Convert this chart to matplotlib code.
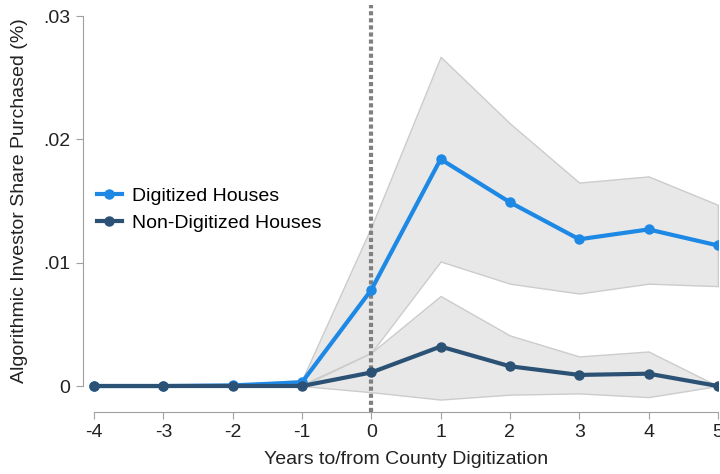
import matplotlib.pyplot as plt

years = [-4, -3, -2, -1, 0, 1, 2, 3, 4, 5]

dig = [0.0, 0.0, 0.00005, 0.0003, 0.0078, 0.0184, 0.0149, 0.0119, 0.0127, 0.0114]
dig_lo = [0.0, 0.0, 0.0, 0.0001, 0.0027, 0.0101, 0.0083, 0.0075, 0.0083, 0.0081]
dig_hi = [0.0, 0.0, 0.0001, 0.0005, 0.0129, 0.0267, 0.0213, 0.0165, 0.0170, 0.0147]

non = [0.0, 0.0, 0.0, 0.0, 0.0011, 0.0032, 0.0016, 0.0009, 0.0010, 0.0]
non_lo = [0.0, 0.0, 0.0, 0.0, -0.0005, -0.0011, -0.0007, -0.0006, -0.0009, 0.0]
non_hi = [0.0, 0.0, 0.0, 0.0, 0.0027, 0.0073, 0.0041, 0.0024, 0.0028, 0.0]

yticks = [0, 0.01, 0.02, 0.03]
ytick_labels = ['0', '.01', '.02', '.03']

plt.rcParams['font.family'] = ['Liberation Sans', 'DejaVu Sans']

fig = plt.figure(figsize=(7.2, 4.74), dpi=100)
ax = fig.add_axes([0.1153, 0.131, 0.8817, 0.835])

band = dict(facecolor='#e8e8e8', edgecolor='#cccccc', linewidth=1, zorder=1)
ax.fill_between(years, dig_lo, dig_hi, **band)
ax.fill_between(years, non_lo, non_hi, **band)

# dotted line at digitization year, running a bit above the plot top
ax.plot([0, 0], [-0.0021, 0.0309], color='#808080', linestyle=(0, (1, 0.7)),
        linewidth=3, zorder=2, clip_on=False)

ax.plot(years, dig, color='#1e88e5', linewidth=3, marker='o', markersize=6.5,
        label='Digitized Houses', zorder=3)
ax.plot(years, non, color='#2b5275', linewidth=3, marker='o', markersize=6.5,
        label='Non-Digitized Houses', zorder=3)

ax.set_xlim(-4.16, 5)
ax.set_ylim(-0.0021, 0.03)
ax.set_xticks(years)
ax.set_xticklabels([str(v) for v in years])
ax.set_yticks(yticks)
ax.set_yticklabels(ytick_labels)

for s in ['top', 'right']:
    ax.spines[s].set_visible(False)
ax.spines['left'].set_bounds(0, 0.03)
ax.spines['bottom'].set_bounds(-4, 5)
for s in ['left', 'bottom']:
    ax.spines[s].set_color('#a0a0a0')
ax.tick_params(axis='both', direction='out', length=5, color='#a0a0a0',
               labelsize=14, labelcolor='#222222', pad=4)

ax.set_xlabel('Years to/from County Digitization', fontsize=14, color='#222222')
ax.set_ylabel('Algorithmic Investor Share Purchased (%)', fontsize=14, color='#222222')
ax.xaxis.set_label_coords(0.509, -0.1)
ax.yaxis.set_label_coords(-0.087, 0.533)

ax.legend(loc='upper left', bbox_to_anchor=(-0.006, 0.612), frameon=False, fontsize=14,
          handlelength=1.3, handletextpad=0.5, labelspacing=0.5)

fig.savefig('out.png', dpi=100)
